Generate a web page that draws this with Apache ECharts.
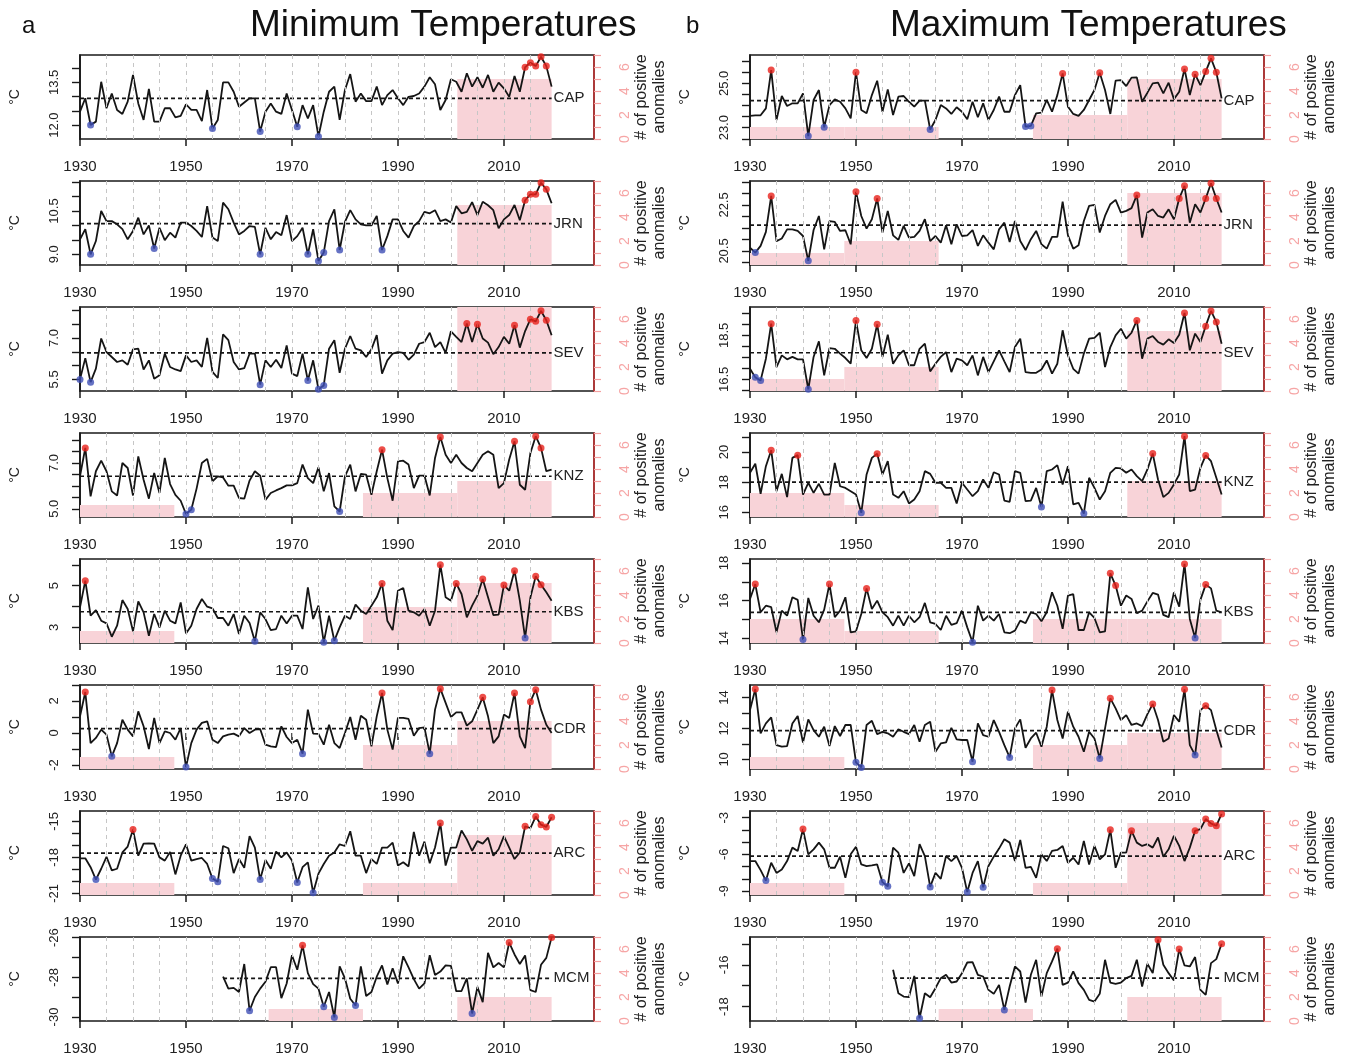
<!DOCTYPE html>
<html>
<head>
<meta charset="utf-8">
<title>Minimum and Maximum Temperatures</title>
<script src="https://cdn.jsdelivr.net/npm/echarts@6.0.0/dist/echarts.min.js"></script>
<style>
  html, body { margin: 0; padding: 0; background: #fff; }
  #chart { width: 1348px; height: 1056px; }
</style>
</head>
<body>
<div id="chart"></div>
<script>
// years on the x axis
const years = [];
for (let y = 1930; y <= 2019; y++) years.push(y);
const xLabelYears = [1930, 1950, 1970, 1990, 2010];
const gridLineYears = [1935, 1940, 1945, 1950, 1955, 1960, 1965, 1970, 1975, 1980, 1985, 1990, 1995, 2000, 2005, 2010, 2015];
const binEdges = [1930, 1947.8, 1965.6, 1983.4, 2001.2, 2019];
const sites = ['CAP', 'JRN', 'SEV', 'KNZ', 'KBS', 'CDR', 'ARC', 'MCM'];

// ---- minimum temperatures (1930-2019, MCM from 1957) ----
const capMin = [12.47, 12.94, 12.0, 12.12, 13.52, 12.59, 13.11, 12.53, 12.39, 12.82,
  13.76, 12.76, 12.18, 13.27, 12.12, 12.12, 12.59, 12.59, 12.27, 12.32,
  12.73, 12.53, 12.53, 12.14, 13.23, 11.88, 12.18, 13.5, 13.5, 13.17,
  12.64, 12.79, 12.94, 12.94, 11.77, 12.47, 12.76, 12.47, 12.39, 13.11,
  12.53, 11.94, 12.7, 12.23, 12.7, 11.6, 12.47, 13.17, 13.35, 12.18,
  13.23, 13.79, 12.82, 13.11, 12.84, 12.84, 13.35, 12.7, 13.05, 13.23,
  12.94, 12.7, 12.99, 13.02, 13.11, 13.35, 13.68, 13.43, 12.53, 12.88,
  13.61, 13.52, 13.17, 13.82, 13.35, 13.68, 13.31, 13.76, 13.17, 13.49,
  13.29, 12.99, 13.72, 13.17, 14.03, 14.19, 14.07, 14.4, 14.07, 13.35];
const jrnMin = [9.52, 9.87, 9.0, 9.46, 10.5, 10.15, 10.15, 10.04, 9.87, 9.52,
  9.81, 10.27, 9.69, 10.0, 9.2, 9.92, 9.49, 9.75, 9.58, 10.1,
  10.1, 9.98, 9.81, 9.6, 10.67, 9.58, 9.46, 10.79, 10.56, 10.1,
  9.69, 9.81, 9.98, 9.95, 9.0, 9.92, 9.52, 9.77, 9.66, 10.36,
  9.46, 9.63, 9.92, 9.0, 9.87, 8.77, 9.06, 10.15, 10.56, 9.15,
  10.12, 10.53, 10.21, 10.04, 10.0, 10.0, 10.33, 9.15, 9.63, 10.21,
  10.21, 9.81, 9.58, 9.98, 10.15, 10.47, 10.42, 10.53, 10.15, 10.21,
  10.1, 10.67, 10.42, 10.47, 10.81, 10.36, 10.82, 10.7, 10.53, 9.9,
  10.21, 10.36, 10.71, 10.18, 10.87, 11.08, 11.08, 11.48, 11.25, 10.77];
const sevMin = [5.5, 6.27, 5.4, 5.89, 6.98, 6.49, 6.31, 6.13, 6.19, 6.03,
  6.59, 6.61, 5.86, 6.19, 5.52, 5.65, 6.43, 5.95, 5.86, 5.8,
  6.37, 6.13, 6.19, 5.95, 7.0, 5.77, 5.55, 7.13, 6.92, 6.13,
  5.86, 5.91, 6.43, 6.43, 5.31, 6.19, 5.95, 6.21, 5.91, 6.73,
  5.71, 5.62, 6.43, 5.46, 6.19, 5.14, 5.28, 6.61, 6.92, 5.74,
  6.61, 7.07, 6.61, 6.55, 6.31, 6.59, 7.1, 5.71, 6.19, 6.43,
  6.49, 6.46, 6.21, 6.4, 6.79, 6.85, 7.19, 6.67, 6.85, 6.46,
  7.24, 7.04, 6.85, 7.52, 6.85, 7.5, 6.98, 6.83, 6.41, 6.67,
  7.04, 6.79, 7.46, 6.65, 7.25, 7.68, 7.6, 7.98, 7.64, 7.1];
const knzMin = [6.42, 7.66, 5.54, 6.64, 7.1, 6.64, 5.76, 5.58, 7.0, 6.78,
  5.58, 7.29, 6.27, 5.44, 6.56, 5.69, 7.22, 6.08, 5.61, 5.35,
  4.77, 4.96, 5.88, 7.0, 7.18, 6.2, 6.42, 6.37, 6.01, 6.01,
  5.47, 5.44, 6.23, 6.64, 6.45, 5.39, 5.69, 5.8, 5.9, 6.02,
  6.02, 6.12, 6.93, 6.34, 6.12, 6.81, 5.76, 6.56, 5.1, 4.88,
  6.42, 6.93, 5.76, 6.52, 6.49, 5.61, 6.64, 7.58, 6.34, 5.35,
  7.07, 7.1, 6.93, 5.9, 6.45, 6.45, 5.58, 7.22, 8.14, 7.36,
  7.0, 7.36, 7.0, 6.78, 6.64, 7.0, 7.36, 7.51, 7.36, 5.9,
  6.12, 7.15, 7.95, 6.05, 5.83, 7.44, 8.17, 7.66, 6.64, 6.71];
const kbsMin = [3.96, 5.24, 3.56, 3.83, 3.32, 3.19, 2.55, 3.08, 4.31, 3.88,
  2.81, 4.25, 3.72, 2.6, 3.64, 3.0, 3.8, 3.32, 3.19, 4.2,
  2.71, 3.08, 3.88, 4.36, 3.99, 3.91, 3.45, 3.45, 3.08, 3.64,
  2.68, 3.56, 3.21, 2.33, 3.72, 3.4, 2.87, 2.92, 3.56, 3.19,
  3.56, 3.56, 2.92, 4.92, 3.4, 4.04, 2.28, 3.56, 2.36, 3.0,
  3.56, 3.4, 4.09, 3.8, 3.64, 4.04, 4.44, 5.11, 3.32, 2.87,
  4.76, 4.89, 3.8, 3.72, 3.56, 3.88, 3.08, 3.8, 6.01, 4.44,
  4.28, 5.11, 4.6, 3.48, 4.04, 4.52, 5.32, 4.44, 3.59, 3.61,
  5.03, 4.76, 5.72, 4.28, 2.49, 4.44, 5.45, 5.05, 4.68, 4.28];
const cdrMin = [1.04, 2.56, -0.63, -0.31, 0.21, -0.1, -1.46, -0.63, 0.83, 0.21,
  -0.21, 1.35, 0.42, -1.0, 0.94, -0.63, 0.1, 0.0, -0.42, 0.31,
  -2.13, -0.63, 0.21, 0.63, 0.73, -0.42, -0.63, -0.21, -0.1, -0.04,
  -0.21, 0.31, 0.0, 0.21, 0.25, -0.73, -0.83, -0.88, 0.42, -0.25,
  -0.63, -0.42, -1.29, 1.46, -0.04, -0.06, -0.73, 0.52, -0.63, -0.94,
  0.0, 1.0, -0.42, 1.08, 0.83, -0.83, 1.04, 2.5, 0.21, -1.04,
  0.94, 0.94, 0.88, -0.17, 0.31, 0.35, -1.29, 1.46, 2.77, 1.88,
  1.0, 1.29, 1.29, 0.46, 0.73, 1.46, 2.23, 1.04, -0.63, -0.21,
  1.15, 0.94, 2.5, -0.21, -0.94, 1.96, 2.71, 1.46, 0.52, 0.0];
const arcMin = [-18.08, -18.08, -18.82, -19.85, -18.95, -17.95, -19.09, -18.95, -17.59, -17.1,
  -15.68, -17.86, -16.85, -16.83, -16.85, -18.0, -18.27, -17.54, -19.42, -17.86,
  -16.91, -18.27, -18.14, -18.05, -18.55, -19.77, -20.04, -17.05, -17.24, -19.31,
  -18.14, -18.87, -16.23, -17.18, -19.85, -18.22, -18.95, -17.51, -18.0, -17.59,
  -18.27, -20.1, -18.82, -18.41, -20.95, -19.36, -18.55, -17.86, -17.59, -16.91,
  -17.05, -15.82, -17.86, -17.86, -19.31, -18.14, -18.55, -17.18, -17.18, -16.77,
  -18.68, -18.41, -18.76, -15.87, -17.86, -16.69, -18.49, -17.18, -15.14, -18.68,
  -17.18, -17.18, -15.76, -16.5, -17.45, -16.64, -16.85, -16.36, -17.86, -17.32,
  -16.23, -17.18, -18.14, -17.59, -15.41, -15.55, -14.59, -15.27, -15.46, -14.65];
const mcmMin = [-27.97, -28.57, -28.53,
  -28.74, -27.33, -29.68, -28.99, -28.57, -28.22, -27.49, -27.49, -29.05, -28.31,
  -26.89, -27.62, -26.39, -27.79, -28.34, -28.57, -29.48, -28.74, -30.02, -27.45,
  -28.05, -29.08, -29.42, -27.45, -28.94, -28.74, -27.97, -27.4, -28.36, -27.54,
  -28.31, -26.94, -27.5, -28.09, -28.57, -28.31, -26.89, -27.88, -27.71, -27.4,
  -27.42, -28.7, -28.69, -28.05, -29.82, -28.48, -29.25, -26.77, -27.5, -27.28,
  -27.5, -26.25, -26.85, -27.33, -26.9, -28.65, -28.74, -27.37, -27.02, -25.99];

// ---- maximum temperatures ----
const capMax = [23.53, 23.56, 23.56, 23.87, 25.6, 23.35, 24.43, 23.98, 24.1, 24.1,
  24.55, 22.62, 24.25, 24.7, 23.02, 24.02, 24.28, 24.17, 23.87, 23.42,
  25.5, 23.8, 23.65, 24.47, 25.12, 23.72, 24.73, 23.57, 24.4, 24.43,
  24.17, 23.95, 24.22, 24.22, 22.92, 23.35, 24.02, 23.87, 23.62, 23.92,
  23.72, 23.38, 24.17, 23.47, 24.1, 23.35, 23.8, 24.4, 23.72, 23.72,
  24.47, 24.92, 23.05, 23.08, 23.65, 23.68, 24.25, 23.72, 24.47, 25.45,
  23.95, 23.62, 23.53, 23.8, 24.25, 24.7, 25.48, 24.7, 23.62, 25.12,
  25.15, 24.88, 25.26, 25.27, 24.17, 24.58, 25.0, 25.03, 24.55, 25.03,
  24.29, 24.62, 25.65, 24.47, 25.41, 24.92, 25.53, 26.13, 25.5, 24.32];
const jrnMax = [20.64, 20.43, 20.72, 21.33, 22.89, 20.93, 21.04, 21.44, 21.44, 21.37,
  21.15, 20.07, 21.41, 22.02, 20.57, 21.8, 21.76, 21.37, 21.4, 20.79,
  23.07, 22.02, 21.47, 21.88, 22.78, 21.3, 22.24, 21.18, 20.98, 21.59,
  21.08, 21.11, 21.37, 21.88, 20.93, 21.15, 20.86, 21.62, 20.79, 21.66,
  21.15, 21.18, 21.41, 20.72, 21.18, 20.86, 20.57, 21.44, 21.73, 20.89,
  21.8, 20.93, 20.54, 21.01, 21.37, 20.79, 20.6, 21.11, 21.11, 22.64,
  21.18, 20.6, 20.75, 21.8, 22.46, 22.5, 21.3, 22.02, 22.53, 22.72,
  22.17, 22.24, 22.36, 22.93, 21.08, 22.17, 22.31, 22.02, 21.95, 22.31,
  21.88, 22.78, 23.33, 21.73, 22.53, 22.17, 22.78, 23.44, 22.78, 22.17];
const sevMax = [16.98, 16.59, 16.45, 17.44, 19.03, 17.06, 17.59, 17.41, 17.52, 17.41,
  17.41, 16.05, 17.52, 18.23, 16.68, 17.92, 17.89, 17.67, 17.47, 17.21,
  19.18, 17.82, 17.47, 17.89, 19.0, 17.52, 18.53, 17.21, 17.59, 17.82,
  17.14, 17.14, 17.89, 18.12, 16.86, 17.21, 17.52, 17.74, 16.83, 17.44,
  17.36, 17.14, 17.59, 16.68, 17.52, 16.83, 17.32, 17.82, 17.32, 16.83,
  17.97, 18.35, 16.83, 16.79, 16.8, 16.95, 17.36, 16.76, 17.21, 18.73,
  17.59, 16.98, 16.76, 17.67, 18.35, 18.39, 18.62, 17.06, 17.97, 18.5,
  18.8, 18.35, 18.62, 19.18, 17.44, 18.35, 18.47, 18.2, 18.08, 18.32,
  18.15, 18.53, 19.52, 17.82, 18.58, 18.2, 18.92, 19.61, 19.11, 18.12];
const knzMax = [18.62, 19.22, 17.23, 19.06, 20.12, 17.4, 18.55, 17.01, 19.61, 19.79,
  17.18, 17.96, 17.29, 17.89, 17.18, 17.18, 19.28, 17.73, 17.62, 17.4,
  17.18, 15.97, 18.51, 19.61, 19.88, 18.51, 19.39, 17.18, 16.96, 17.4,
  16.59, 16.85, 17.4, 18.73, 18.55, 17.96, 17.96, 17.62, 17.62, 16.59,
  17.96, 17.51, 17.07, 17.4, 18.18, 17.62, 18.66, 18.51, 16.78, 16.7,
  18.73, 18.62, 16.74, 16.78, 17.62, 16.36, 18.73, 18.84, 19.13, 17.85,
  19.06, 16.52, 16.63, 15.92, 18.29, 17.62, 16.85, 17.4, 18.62, 18.95,
  18.91, 18.62, 18.84, 18.4, 18.07, 18.84, 19.9, 18.18, 17.01, 17.29,
  17.85, 18.51, 21.05, 17.4, 17.51, 18.95, 19.77, 19.39, 18.29, 17.18];
const kbsMax = [16.09, 16.88, 15.38, 15.73, 15.65, 14.32, 15.47, 15.2, 16.18, 16.04,
  13.93, 16.14, 15.2, 14.85, 15.52, 16.88, 15.12, 15.47, 16.18, 14.32,
  14.37, 15.29, 16.65, 15.56, 16.0, 15.38, 15.12, 14.67, 15.2, 14.67,
  15.2, 14.85, 15.12, 15.88, 14.85, 14.76, 14.44, 15.2, 14.71, 14.8,
  15.47, 14.58, 13.79, 15.73, 14.94, 15.2, 14.94, 15.29, 14.32, 14.27,
  14.41, 14.94, 14.8, 15.38, 15.29, 14.9, 15.38, 16.44, 15.73, 14.5,
  16.27, 16.35, 14.44, 14.44, 15.38, 15.08, 14.32, 14.37, 17.45, 16.8,
  15.73, 16.27, 16.09, 15.33, 15.47, 15.96, 16.41, 16.32, 15.24, 15.12,
  16.44, 15.68, 17.95, 15.03, 14.02, 16.04, 16.85, 16.65, 15.47, 15.38];
const cdrMax = [13.18, 14.54, 11.68, 12.32, 12.71, 10.92, 10.82, 10.86, 12.32, 12.8,
  11.08, 12.58, 11.89, 11.46, 12.11, 10.86, 12.15, 11.51, 12.22, 12.22,
  9.81, 9.48, 12.22, 12.49, 11.63, 11.78, 11.68, 11.46, 11.94, 11.78,
  11.63, 12.22, 11.14, 12.22, 12.43, 10.49, 11.03, 11.1, 12.04, 11.29,
  11.25, 11.25, 9.85, 12.32, 11.57, 11.46, 12.54, 11.78, 10.92, 10.13,
  12.0, 12.58, 10.75, 11.35, 11.72, 10.82, 12.11, 14.47, 12.54, 11.35,
  13.08, 12.11, 11.46, 10.49, 11.78, 11.35, 10.06, 12.0, 13.94, 13.29,
  12.54, 12.86, 12.22, 12.32, 12.15, 12.92, 13.57, 12.54, 11.14, 11.35,
  12.86, 12.43, 14.52, 10.92, 10.28, 13.18, 13.46, 13.18, 11.89, 10.77];
const arcMax = [-6.55, -6.55, -7.29, -8.15, -6.69, -7.52, -7.24, -6.55, -5.45, -5.72,
  -3.93, -6.0, -5.59, -5.04, -5.59, -7.1, -7.1, -6.19, -7.93, -6.0,
  -5.37, -6.83, -6.96, -6.91, -6.83, -8.29, -8.62, -5.45, -5.86, -7.52,
  -6.74, -7.79, -5.17, -6.14, -8.67, -7.52, -8.01, -6.14, -6.55, -6.14,
  -7.1, -9.09, -7.52, -6.55, -8.7, -6.96, -6.19, -5.53, -4.76, -5.04,
  -6.55, -4.82, -7.1, -7.02, -7.93, -6.0, -6.55, -5.72, -5.64, -5.31,
  -6.69, -6.28, -6.83, -4.9, -6.83, -5.31, -6.41, -6.0, -3.99, -7.1,
  -5.86, -5.86, -4.07, -5.04, -5.31, -5.17, -5.45, -4.62, -6.19, -5.59,
  -4.48, -5.31, -6.55, -5.45, -4.07, -3.93, -3.11, -3.47, -3.66, -2.69];
const mcmMax = [-16.24, -17.36, -17.52,
  -17.55, -16.53, -18.56, -17.36, -17.55, -17.12, -16.64, -16.48, -16.85, -16.8,
  -16.4, -15.89, -15.87, -16.48, -16.56, -17.2, -17.39, -16.96, -18.16, -17.04,
  -16.08, -16.32, -17.81, -16.48, -15.76, -17.52, -16.4, -15.84, -15.23, -16.96,
  -16.85, -16.32, -16.88, -17.2, -17.68, -17.76, -17.39, -15.76, -16.85, -16.91,
  -16.85, -16.64, -16.53, -15.76, -17.04, -15.95, -16.4, -14.8, -16.0, -16.4,
  -16.75, -15.25, -16.03, -16.08, -15.63, -17.2, -17.44, -15.92, -15.73, -14.99];

// long-term means (dotted lines)
const minMeans = [12.94, 10.06, 6.46, 6.42, 3.75, 0.27, -17.65, -28.05];
const maxMeans = [24.22, 21.62, 17.71, 18.0, 15.38, 11.85, -6.14, -16.64];

// years flagged as extremes
const minRedYears = [
  [2014, 2015, 2016, 2017, 2018],
  [2014, 2015, 2016, 2017, 2018],
  [2003, 2005, 2012, 2015, 2016, 2017, 2018],
  [1931, 1987, 1998, 2012, 2016, 2017],
  [1931, 1987, 1998, 2001, 2006, 2010, 2012, 2016, 2017],
  [1931, 1987, 1998, 2006, 2012, 2015, 2016],
  [1940, 1998, 2014, 2016, 2017, 2018, 2019],
  [1972, 2011, 2019]];
const minBlueYears = [
  [1932, 1955, 1964, 1971, 1975],
  [1932, 1944, 1964, 1973, 1975, 1976, 1979, 1987],
  [1930, 1932, 1964, 1973, 1975, 1976],
  [1950, 1951, 1979],
  [1963, 1976, 1978, 2014],
  [1936, 1950, 1972, 1996],
  [1933, 1955, 1956, 1964, 1971, 1974],
  [1962, 1976, 1978, 1982, 2004]];
const maxRedYears = [
  [1934, 1950, 1989, 1996, 2012, 2014, 2016, 2017, 2018],
  [1934, 1950, 1954, 2003, 2011, 2012, 2016, 2017, 2018],
  [1934, 1950, 1954, 2003, 2012, 2016, 2017, 2018],
  [1934, 1939, 1954, 2006, 2012, 2016],
  [1931, 1945, 1952, 1998, 1999, 2012, 2016],
  [1931, 1987, 1998, 2006, 2012, 2016],
  [1940, 1998, 2002, 2014, 2016, 2017, 2018, 2019],
  [1988, 2007, 2011, 2019]];
const maxBlueYears = [
  [1941, 1944, 1964, 1982, 1983],
  [1931, 1941],
  [1931, 1932, 1941],
  [1951, 1985, 1993],
  [1940, 1972, 2014],
  [1950, 1951, 1972, 1979, 1996, 2014],
  [1933, 1955, 1956, 1964, 1971, 1974],
  [1962, 1978]];

// number of positive anomalies per period
const minBins = [[0, 0, 0, 0, 5], [0, 0, 0, 0, 5], [0, 0, 0, 0, 7], [1, 0, 0, 2, 3],
  [1, 0, 0, 3, 5], [1, 0, 0, 2, 4], [1, 0, 0, 1, 5], [0, 0, 1, 0, 2]];
const maxBins = [[1, 1, 0, 2, 5], [1, 2, 0, 0, 6], [1, 2, 0, 0, 5], [2, 1, 0, 0, 3],
  [2, 1, 0, 2, 2], [1, 0, 0, 2, 3], [1, 0, 0, 1, 6], [0, 0, 1, 0, 2]];

// left axis ranges: [min, max, tick step, labelled values, decimals]
const minAxes = [
  [11.51, 14.46, 0.5, [12, 13.5], 1],
  [8.63, 11.54, 0.5, [9, 10.5], 1],
  [5.08, 8.12, 0.5, [5.5, 7], 1],
  [4.64, 8.31, 0.5, [5, 7], 1],
  [2.25, 6.28, 1, [3, 5], 0],
  [-2.25, 3.0, 1, [-2, 0, 2], 0],
  [-21.14, -14.13, 1, [-21, -18, -15], 0],
  [-30.2, -25.97, 1, [-30, -28, -26], 0]];
const maxAxes = [
  [22.49, 26.28, 0.5, [23, 25], 1],
  [19.89, 23.54, 0.5, [20.5, 22.5], 1],
  [15.97, 19.79, 0.5, [16.5, 18.5], 1],
  [15.69, 21.26, 1, [16, 18, 20], 0],
  [13.75, 18.21, 1, [14, 16, 18], 0],
  [9.38, 14.8, 1, [10, 12, 14], 0],
  [-9.33, -2.45, 1, [-9, -6, -3], 0],
  [-18.69, -14.67, 1, [-18, -16], 0]];

const minSeries = [capMin, jrnMin, sevMin, knzMin, kbsMin, cdrMin, arcMin, mcmMin];
const maxSeries = [capMax, jrnMax, sevMax, knzMax, kbsMax, cdrMax, arcMax, mcmMax];

const FONT = 'Liberation Sans, Arial, Helvetica, sans-serif';
const colLeft = [80, 750];
const plotW = 514, plotH = 84, rowTop = 55, rowStep = 126;

const grids = [], xAxes = [], yAxes = [], series = [];

function addPanel(col, row, vals, axis, mean, reds, blues, bins) {
  const p = grids.length;
  const start = 2020 - vals.length;
  const [yMin, yMax, step, labels, dec] = axis;
  const ticks = [];
  for (let v = Math.ceil(yMin / step - 1e-9) * step; v <= yMax + 1e-9; v += step) ticks.push(+v.toFixed(2));

  grids.push({
    left: colLeft[col], top: rowTop + row * rowStep, width: plotW, height: plotH,
    show: true, borderColor: '#1a1a1a', borderWidth: 1.7, backgroundColor: 'transparent'
  });
  xAxes.push({
    gridIndex: p, type: 'value', min: 1930, max: 2027,
    axisLine: { show: false }, splitLine: { show: false },
    axisTick: { customValues: xLabelYears, length: 7, lineStyle: { color: '#1a1a1a', width: 1.5 } },
    axisLabel: { customValues: xLabelYears, fontSize: 15, color: '#222', margin: 20, fontFamily: FONT,
      formatter: v => String(v) }
  });
  yAxes.push({
    gridIndex: p, type: 'value', position: 'left', min: yMin, max: yMax,
    name: '°C', nameLocation: 'middle', nameRotate: 90, nameGap: 58,
    nameTextStyle: { fontSize: 14, color: '#222', fontFamily: FONT },
    axisLine: { show: true, lineStyle: { color: '#1a1a1a', width: 1.7 } },
    splitLine: { show: false },
    axisTick: { customValues: ticks, length: 8, lineStyle: { color: '#1a1a1a', width: 1.4 } },
    axisLabel: { customValues: labels, rotate: 90, fontSize: 13, color: '#222', margin: 19, fontFamily: FONT,
      formatter: v => Number(v).toFixed(dec) }
  });
  yAxes.push({
    gridIndex: p, type: 'value', position: 'right', min: 0, max: 7,
    name: '# of positive\nanomalies', nameLocation: 'middle', nameRotate: 90, nameGap: 37,
    nameTextStyle: { fontSize: 16, color: '#222', fontFamily: FONT, lineHeight: 18 },
    axisLine: { show: true, lineStyle: { color: '#d23a3a', width: 1.5 } },
    splitLine: { show: false },
    axisTick: { customValues: [0, 1, 2, 3, 4, 5, 6, 7], length: 7, lineStyle: { color: '#f4a0a0', width: 1.2 } },
    axisLabel: { customValues: [0, 2, 4, 6], rotate: 90, fontSize: 14, color: '#f6a5a5', margin: 24, fontFamily: FONT }
  });

  const xi = p, yl = 2 * p, yr = 2 * p + 1;
  series.push({
    type: 'custom', xAxisIndex: xi, yAxisIndex: yr, z: 1, silent: true,
    data: bins.map((c, i) => [binEdges[i], binEdges[i + 1], c]),
    encode: { x: [0, 1], y: 2 },
    renderItem: function (params, api) {
      const p0 = api.coord([api.value(0), 0]);
      const p1 = api.coord([api.value(1), api.value(2)]);
      return { type: 'rect', shape: { x: p0[0], y: p1[1], width: p1[0] - p0[0], height: p0[1] - p1[1] },
        style: { fill: '#f8d3d8' } };
    },
    markLine: {
      silent: true, symbol: 'none', label: { show: false },
      lineStyle: { color: '#c6c6c6', type: [4, 4], width: 1 },
      data: gridLineYears.map(y => ({ xAxis: y }))
    }
  });
  series.push({
    type: 'line', xAxisIndex: xi, yAxisIndex: yl, z: 3, symbol: 'none',
    lineStyle: { color: '#151515', width: 1.8 },
    data: vals.map((v, i) => [start + i, v])
  });
  series.push({
    type: 'line', xAxisIndex: xi, yAxisIndex: yl, z: 3, symbol: 'none',
    lineStyle: { color: '#151515', width: 1.7, type: [4, 3] },
    data: [[start, mean], [2019, mean]],
    endLabel: { show: true, formatter: sites[row], fontSize: 15, color: '#222', distance: 2, fontFamily: FONT }
  });
  series.push({
    type: 'scatter', xAxisIndex: xi, yAxisIndex: yl, z: 5, clip: false, symbolSize: 7,
    itemStyle: { color: '#e8221c' },
    data: reds.map(y => [y, vals[y - start]])
  });
  series.push({
    type: 'scatter', xAxisIndex: xi, yAxisIndex: yl, z: 5, clip: false, symbolSize: 7,
    itemStyle: { color: '#3f4fb5' },
    data: blues.map(y => [y, vals[y - start]])
  });
}

for (let r = 0; r < 8; r++) {
  addPanel(0, r, minSeries[r], minAxes[r], minMeans[r], minRedYears[r], minBlueYears[r], minBins[r]);
}
for (let r = 0; r < 8; r++) {
  addPanel(1, r, maxSeries[r], maxAxes[r], maxMeans[r], maxRedYears[r], maxBlueYears[r], maxBins[r]);
}

const chart = echarts.init(document.getElementById('chart'), null, { renderer: 'canvas' });
chart.setOption({
  backgroundColor: '#ffffff',
  animation: false,
  textStyle: { fontFamily: FONT },
  graphic: [
    { type: 'text', left: 22, top: 14, style: { text: 'a', font: '24px ' + FONT, fill: '#111' } },
    { type: 'text', left: 250, top: 7, style: { text: 'Minimum Temperatures', font: '37px ' + FONT, fill: '#111' } },
    { type: 'text', left: 686, top: 14, style: { text: 'b', font: '24px ' + FONT, fill: '#111' } },
    { type: 'text', left: 890, top: 7, style: { text: 'Maximum Temperatures', font: '37px ' + FONT, fill: '#111' } }
  ],
  grid: grids,
  xAxis: xAxes,
  yAxis: yAxes,
  series: series
});
</script>
</body>
</html>
